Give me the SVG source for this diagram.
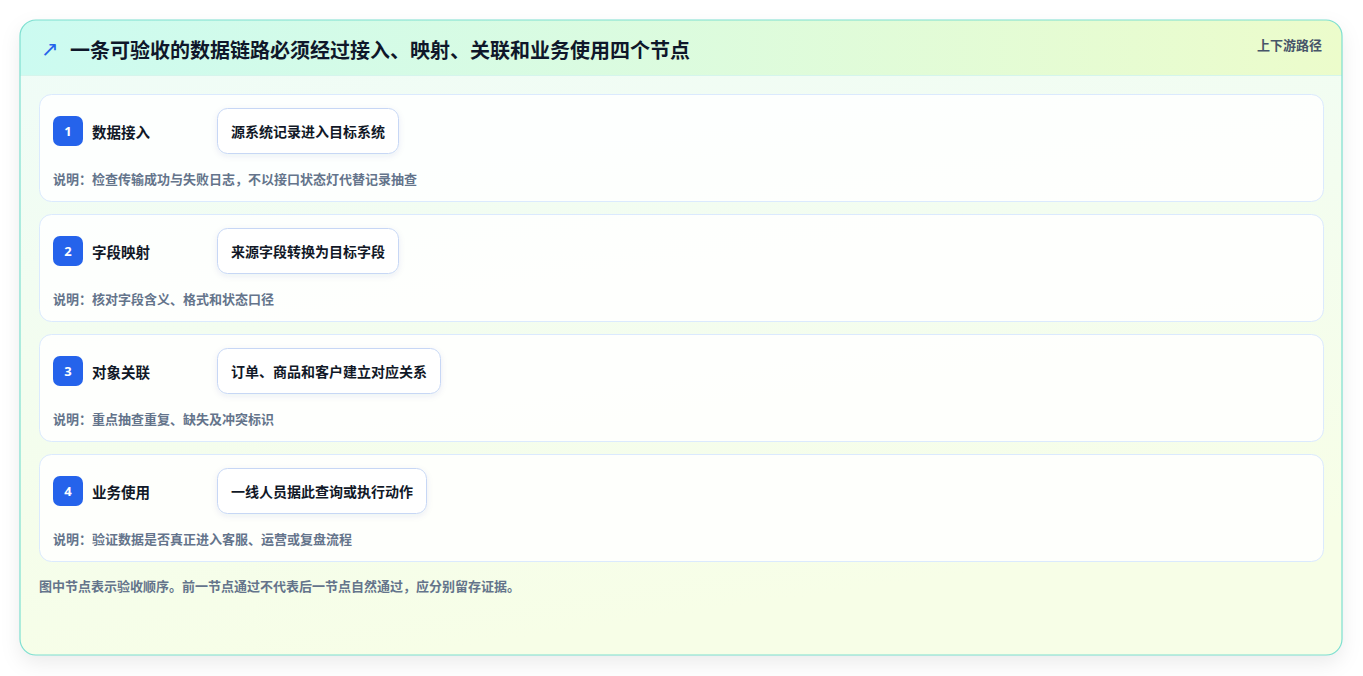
<svg xmlns="http://www.w3.org/2000/svg" width="1363" height="676" viewBox="0 0 1363 676">
<defs>
<linearGradient id="hdr" x1="0" y1="0" x2="1" y2="0">
<stop offset="0" stop-color="#ccfbf1"/>
<stop offset="1" stop-color="#ecfccb"/>
</linearGradient>
<linearGradient id="body" x1="0" y1="0" x2="0.3" y2="1">
<stop offset="0" stop-color="#effcf8"/>
<stop offset="1" stop-color="#f7fee7"/>
</linearGradient>
<clipPath id="cardClip"><rect x="20" y="20" width="1322" height="635" rx="16"/></clipPath>
<filter id="shadow" x="-5%" y="-5%" width="110%" height="120%">
<feDropShadow dx="0" dy="8" stdDeviation="10" flood-color="#0f172a" flood-opacity="0.08"/>
</filter>
<filter id="pshadow" x="-10%" y="-20%" width="120%" height="160%">
<feDropShadow dx="0" dy="2" stdDeviation="3" flood-color="#1e3a8a" flood-opacity="0.08"/>
</filter>
</defs>
<style>
text{font-family:"Noto Sans CJK SC","Noto Sans",sans-serif;font-weight:700;dominant-baseline:central}
.title{font-size:20px;fill:#0f172a}
.tag{font-size:13px;fill:#475569}
.row{fill:#ffffff;fill-opacity:0.85;stroke:#dbeafe;stroke-width:1}
.badge{fill:#2563eb}
.num{font-size:13px;fill:#ffffff;text-anchor:middle;font-family:"Noto Sans",sans-serif}
.name{font-size:14.5px;fill:#111827}
.pill{fill:#ffffff;stroke:#c7d7f5;stroke-width:1;filter:url(#pshadow)}
.ptext{font-size:14px;fill:#111827;text-anchor:middle}
.desc{font-size:13px;fill:#64748b}
.foot{font-size:13px;fill:#64748b}
</style>
<rect x="20" y="20" width="1322" height="635" rx="16" fill="url(#body)" filter="url(#shadow)"/>
<g clip-path="url(#cardClip)">
<rect x="20" y="20" width="1322" height="55" fill="url(#hdr)"/>
<line x1="20" y1="75.5" x2="1342" y2="75.5" stroke="#d5f5ec" stroke-width="1"/>
</g>
<rect x="20" y="20" width="1322" height="635" rx="16" fill="none" stroke="#7ddfd0" stroke-width="1.2"/>
<g id="header">
<text x="41" y="49" style="font-size:21px;fill:#2563eb;font-family:'DejaVu Sans',sans-serif;font-weight:400">↗</text>
<text class="title" x="70" y="49">一条可验收的数据链路必须经过接入、映射、关联和业务使用四个节点</text>
<text class="tag" x="1322" y="44" text-anchor="end">上下游路径</text>
</g>
<g id="connectors"></g>
<g id="node1">
<rect class="row" x="39.5" y="94.5" width="1284" height="107" rx="12"/>
<rect class="badge" x="53" y="116" width="30" height="30" rx="7"/>
<text class="num" x="68" y="131">1</text>
<text class="name" x="92" y="131">数据接入</text>
<rect class="pill" x="217.5" y="108.5" width="181" height="45" rx="10"/>
<text class="ptext" x="308" y="131">源系统记录进入目标系统</text>
<text class="desc" x="53" y="178">说明：检查传输成功与失败日志，不以接口状态灯代替记录抽查</text>
</g>
<g id="node2">
<rect class="row" x="39.5" y="214.5" width="1284" height="107" rx="12"/>
<rect class="badge" x="53" y="236" width="30" height="30" rx="7"/>
<text class="num" x="68" y="251">2</text>
<text class="name" x="92" y="251">字段映射</text>
<rect class="pill" x="217.5" y="228.5" width="181" height="45" rx="10"/>
<text class="ptext" x="308" y="251">来源字段转换为目标字段</text>
<text class="desc" x="53" y="298">说明：核对字段含义、格式和状态口径</text>
</g>
<g id="node3">
<rect class="row" x="39.5" y="334.5" width="1284" height="107" rx="12"/>
<rect class="badge" x="53" y="356" width="30" height="30" rx="7"/>
<text class="num" x="68" y="371">3</text>
<text class="name" x="92" y="371">对象关联</text>
<rect class="pill" x="217.5" y="348.5" width="223" height="45" rx="10"/>
<text class="ptext" x="329" y="371">订单、商品和客户建立对应关系</text>
<text class="desc" x="53" y="418">说明：重点抽查重复、缺失及冲突标识</text>
</g>
<g id="node4">
<rect class="row" x="39.5" y="454.5" width="1284" height="107" rx="12"/>
<rect class="badge" x="53" y="476" width="30" height="30" rx="7"/>
<text class="num" x="68" y="491">4</text>
<text class="name" x="92" y="491">业务使用</text>
<rect class="pill" x="217.5" y="468.5" width="209" height="45" rx="10"/>
<text class="ptext" x="322" y="491">一线人员据此查询或执行动作</text>
<text class="desc" x="53" y="538">说明：验证数据是否真正进入客服、运营或复盘流程</text>
</g>
<g id="footer">
<text class="foot" x="39" y="585">图中节点表示验收顺序。前一节点通过不代表后一节点自然通过，应分别留存证据。</text>
</g>
</svg>
